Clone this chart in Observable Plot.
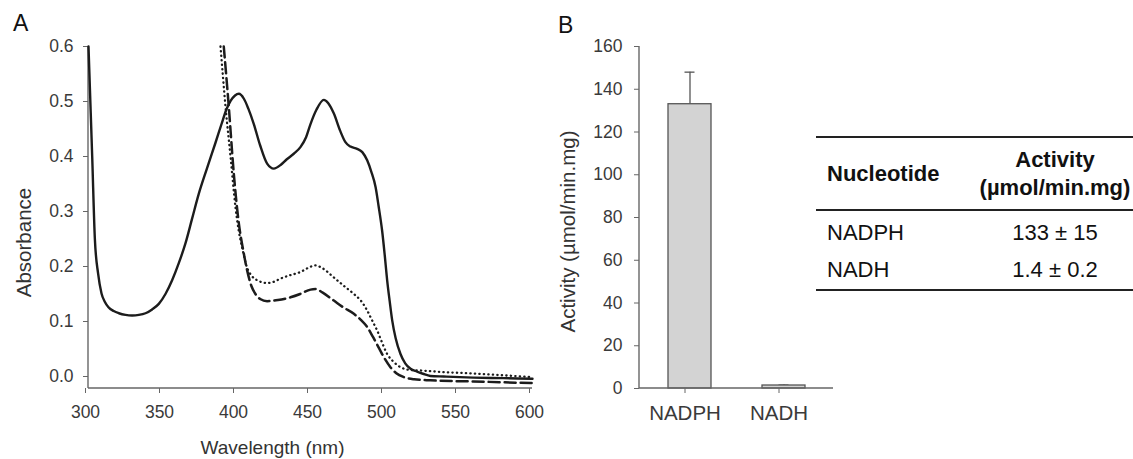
<!DOCTYPE html>
<html>
<head>
<meta charset="utf-8">
<script src="https://cdn.jsdelivr.net/npm/d3@7"></script>
<script src="https://cdn.jsdelivr.net/npm/@observablehq/plot@0.6"></script>
<style>
  body { margin: 0; background: #fff; }
  #wrap { position: relative; width: 1133px; height: 459px; overflow: hidden; font-family: "Liberation Sans", Arial, sans-serif; }
  .panel { position: absolute; top: 0; }
  .letter { position: absolute; font-size: 23px; line-height: 23px; color: #111; }
  table.nt { position: absolute; left: 816px; top: 136px; width: 317px; border-spacing: 0; border-collapse: separate;
             font-family: "Liberation Sans", Arial, sans-serif; font-size: 22px; color: #111; }
  table.nt th, table.nt td { padding: 0; }
  table.nt th { border-top: 2px solid #222; border-bottom: 2px solid #222; height: 71px; line-height: 28px; vertical-align: middle; font-weight: bold; }
  table.nt .c1 { text-align: left; padding-left: 11px; width: 150px; }
  table.nt .c2 { text-align: center; }
  table.nt tr.r1 td { padding-top: 4px; height: 36px; line-height: 36px; }
  table.nt tr.r2 td { height: 38px; line-height: 38px; border-bottom: 2px solid #222; }
</style>
</head>
<body>
<div id="wrap"></div>
<script>
// ---------- Panel A: absorbance spectra ----------
const wlSolid = [300, 301, 302.5, 304.3, 306.5, 308.8, 311, 313.5, 317, 320.5, 325, 329.5, 334, 338.5, 343, 347.5, 352, 356.5, 361, 365.5, 370, 374.5, 380, 385.8, 390, 393, 396, 399, 401.6, 405, 408, 411.7, 416, 420.7, 425.2, 430, 434, 438.7, 443.2, 447, 450, 454, 459, 462, 465.8, 470, 473.6, 477, 481.5, 485, 488.3, 491, 494, 496, 498.4, 500, 501.8, 503.5, 505.2, 507.5, 510.8, 514, 517.6, 522, 526, 531, 540, 560, 580, 600];
const absSolid = [0.60, 0.52, 0.40, 0.25, 0.187, 0.151, 0.136, 0.126, 0.119, 0.115, 0.112, 0.111, 0.112, 0.115, 0.122, 0.132, 0.150, 0.175, 0.206, 0.242, 0.287, 0.332, 0.378, 0.425, 0.460, 0.484, 0.501, 0.511, 0.514, 0.505, 0.487, 0.459, 0.420, 0.387, 0.378, 0.385, 0.395, 0.405, 0.417, 0.435, 0.459, 0.485, 0.503, 0.497, 0.478, 0.447, 0.426, 0.418, 0.414, 0.408, 0.393, 0.373, 0.344, 0.310, 0.265, 0.225, 0.175, 0.137, 0.102, 0.070, 0.041, 0.024, 0.014, 0.009, 0.005, 0.001, 0.000, -0.002, -0.003, -0.004];

const wlDotted = [389.2, 392.6, 396, 399.3, 401.5, 403.8, 407, 410, 414, 420.7, 425, 429.7, 436, 443.2, 448, 453.4, 458, 465.8, 472, 479.3, 484, 488.3, 492, 495, 498, 501.8, 506, 510.8, 517, 524, 540, 556, 575, 600];
const absDotted = [0.60, 0.49, 0.399, 0.308, 0.265, 0.235, 0.199, 0.184, 0.175, 0.170, 0.172, 0.178, 0.184, 0.190, 0.197, 0.202, 0.197, 0.180, 0.166, 0.150, 0.138, 0.120, 0.100, 0.084, 0.064, 0.041, 0.027, 0.017, 0.012, 0.011, 0.008, 0.006, 0.003, -0.001];

const wlDashed = [391.4, 394.8, 398.2, 401.6, 404.5, 407.2, 410, 412.8, 416, 420.7, 428, 436.5, 443, 450, 453.4, 458, 465.8, 472, 479.3, 484, 488.3, 492, 496, 500, 504, 508, 513, 520, 531, 560, 600];
const absDashed = [0.60, 0.49, 0.368, 0.278, 0.230, 0.193, 0.165, 0.150, 0.141, 0.137, 0.139, 0.144, 0.150, 0.158, 0.159, 0.153, 0.138, 0.126, 0.114, 0.103, 0.090, 0.073, 0.053, 0.033, 0.017, 0.006, -0.001, -0.005, -0.007, -0.009, -0.012];

const xTicksA = [300, 350, 400, 450, 500, 550, 600];
const yTicksA = [0.0, 0.1, 0.2, 0.3, 0.4, 0.5, 0.6];
const xTitleA = "Wavelength (nm)";
const yTitleA = "Absorbance";

// ---------- Panel B: activity bars ----------
const nucleotides = ["NADPH", "NADH"];
const activity = [133, 1.4];
const activityErr = [15, 0.2];
const yTicksB = [0, 20, 40, 60, 80, 100, 120, 140, 160];
const yTitleB = "Activity (µmol/min.mg)";

// ---------- Table ----------
const tableHeader = ["Nucleotide", "Activity", "(µmol/min.mg)"];
const tableValues = ["133 ± 15", "1.4 ± 0.2"];

const FONT = '"Liberation Sans", Arial, sans-serif';
const zip = (xs, ys) => xs.map((x, i) => ({wl: x, a: ys[i]}));
const solid = zip(wlSolid, absSolid);
const dotted = zip(wlDotted, absDotted);
const dashed = zip(wlDashed, absDashed);

// axis lines on left and bottom of the frame, from Plot's own dimensions
const axisFrame = (index, scales, values, dims) => {
  const l = dims.marginLeft, r = dims.width - dims.marginRight;
  const t = dims.marginTop, b = dims.height - dims.marginBottom;
  const g = d3.create("svg:g").attr("stroke", "#666").attr("stroke-width", 1.4).attr("fill", "none");
  g.append("line").attr("x1", l).attr("x2", l).attr("y1", t).attr("y2", b);
  g.append("line").attr("x1", l).attr("x2", r).attr("y1", b).attr("y2", b);
  return g.node();
};

const plotA = Plot.plot({
  width: 540, height: 459,
  marginLeft: 88, marginRight: 8, marginTop: 46, marginBottom: 71,
  style: {background: "transparent", fontFamily: FONT, fontSize: "17.5px", color: "#3a3a3a", overflow: "visible"},
  x: {domain: [300, 600]},
  y: {domain: [-0.0218, 0.6]},
  marks: [
    axisFrame,
    Plot.axisX({ticks: xTicksA, tickSize: 5, tickPadding: 12, tickFormat: d => String(d), label: null, stroke: "#666", fill: "#3a3a3a", dx: -3}),
    Plot.axisY({ticks: yTicksA, tickSize: 5, tickPadding: 10, tickFormat: d => d.toFixed(1), label: null, stroke: "#666", fill: "#3a3a3a"}),
    Plot.line(solid, {x: "wl", y: "a", stroke: "#1c1c1c", strokeWidth: 2.4, curve: "monotone-x"}),
    Plot.line(dotted, {x: "wl", y: "a", stroke: "#1c1c1c", strokeWidth: 2.3, strokeDasharray: "0.3,4.2", strokeLinecap: "round", curve: "monotone-x"}),
    Plot.line(dashed, {x: "wl", y: "a", stroke: "#1c1c1c", strokeWidth: 2.5, strokeDasharray: "11,5", curve: "monotone-x"}),
    Plot.text([xTitleA], {frameAnchor: "bottom", text: d => d, textAnchor: "middle", lineAnchor: "middle", dx: -38, dy: 59, fontSize: 19, fill: "#333"}),
    Plot.text([yTitleA], {frameAnchor: "left", text: d => d, rotate: -90, textAnchor: "middle", lineAnchor: "middle", dx: -64, dy: 25, fontSize: 20.5, fill: "#333"})
  ]
});

const barData = nucleotides.map((n, i) => ({name: n, value: activity[i], err: activityErr[i]}));

const plotB = Plot.plot({
  width: 300, height: 459,
  marginLeft: 99, marginRight: 7, marginTop: 46, marginBottom: 71,
  style: {background: "transparent", fontFamily: FONT, fontSize: "17.5px", color: "#3a3a3a", overflow: "visible"},
  x: {domain: nucleotides, paddingInner: 0.547, paddingOuter: 0.3},
  y: {domain: [0, 160]},
  marks: [
    Plot.ruleX(barData, {x: "name", y1: "value", y2: d => d.value + d.err, stroke: "#555", strokeWidth: 1.3}),
    Plot.tickY(barData, {x: "name", y: d => d.value + d.err, stroke: "#555", strokeWidth: 1.3, insetLeft: 16.5, insetRight: 16.5}),
    Plot.barY(barData, {x: "name", y: "value", fill: "#d3d3d3", stroke: "#555", strokeWidth: 1.3}),
    axisFrame,
    Plot.axisX({tickSize: 5, tickPadding: 12, label: null, stroke: "#666", fill: "#3a3a3a", fontSize: 20.5, dx: -5}),
    Plot.axisY({ticks: yTicksB, tickSize: 5, tickPadding: 12, tickFormat: d => String(d), label: null, stroke: "#666", fill: "#3a3a3a"}),
    Plot.text([yTitleB], {frameAnchor: "left", text: d => d, rotate: -90, textAnchor: "middle", lineAnchor: "middle", dx: -71, dy: 14, fontSize: 20.5, fill: "#333"})
  ]
});

const wrap = document.getElementById("wrap");
const pa = document.createElement("div"); pa.className = "panel"; pa.style.left = "0px"; pa.appendChild(plotA); wrap.appendChild(pa);
const pb = document.createElement("div"); pb.className = "panel"; pb.style.left = "540px"; pb.appendChild(plotB); wrap.appendChild(pb);

const la = document.createElement("div"); la.className = "letter"; la.textContent = "A"; la.style.left = "13px"; la.style.top = "12px"; wrap.appendChild(la);
const lb = document.createElement("div"); lb.className = "letter"; lb.textContent = "B"; lb.style.left = "558px"; lb.style.top = "14px"; wrap.appendChild(lb);

// table
const tbl = document.createElement("table"); tbl.className = "nt";
const thead = tbl.createTHead(); const hr = thead.insertRow();
const h1 = document.createElement("th"); h1.className = "c1"; h1.textContent = tableHeader[0]; hr.appendChild(h1);
const h2 = document.createElement("th"); h2.className = "c2"; h2.innerHTML = tableHeader[1] + "<br>" + tableHeader[2]; hr.appendChild(h2);
const tb = tbl.createTBody();
nucleotides.forEach((n, i) => {
  const r = tb.insertRow(); r.className = i === 0 ? "r1" : "r2";
  const c1 = r.insertCell(); c1.className = "c1"; c1.textContent = n;
  const c2 = r.insertCell(); c2.className = "c2"; c2.textContent = tableValues[i];
});
wrap.appendChild(tbl);
</script>
</body>
</html>
